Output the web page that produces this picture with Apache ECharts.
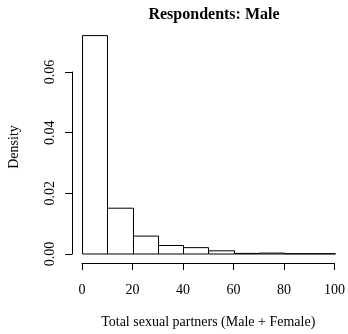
<!DOCTYPE html>
<html>
<head>
<meta charset="utf-8">
<script src="https://cdn.jsdelivr.net/npm/echarts@6/dist/echarts.min.js"></script>
<style>
  html, body { margin: 0; padding: 0; background: #ffffff; }
  #chart { width: 348px; height: 334px; }
</style>
</head>
<body>
<div id="chart"></div>
<script>
// Histogram of total sexual partners among male respondents (density scale)
const binStarts = [0, 10, 20, 30, 40, 50, 60, 70, 80, 90];
const binWidth = 10;
const densities = [0.0720, 0.0151, 0.0059, 0.0028, 0.0021, 0.00105, 0.0002, 0.0003, 0.0001, 0.0001];
const xTickValues = [0, 20, 40, 60, 80, 100];
const yTickValues = [0, 0.02, 0.04, 0.06];

const FONT = '"Liberation Serif", "DejaVu Serif", serif';

const bins = binStarts.map((s, i) => [s, s + binWidth, densities[i]]);

const chart = echarts.init(document.getElementById('chart'), null, { renderer: 'canvas' });

chart.setOption({
  backgroundColor: '#ffffff',
  animation: false,
  title: {
    text: 'Respondents: Male',
    left: 209,
    top: 2,
    textAlign: 'center',
    textStyle: { fontFamily: FONT, fontWeight: 'bold', fontSize: 16, color: '#000' }
  },
  graphic: [{
    type: 'text',
    x: 14,
    y: 147,
    rotation: Math.PI / 2,
    style: {
      text: 'Density',
      font: '14px ' + FONT,
      fill: '#000',
      align: 'center',
      verticalAlign: 'middle'
    }
  }],
  grid: { left: 82, right: 12, top: 72, bottom: 75 },
  xAxis: {
    type: 'value',
    min: xTickValues[0],
    max: xTickValues[xTickValues.length - 1],
    interval: xTickValues[1] - xTickValues[0],
    offset: 9,
    name: 'Total sexual partners (Male + Female)',
    nameLocation: 'middle',
    nameGap: 52,
    nameTextStyle: { fontFamily: FONT, fontSize: 14, color: '#000' },
    axisLine: { show: true, onZero: false, lineStyle: { color: '#000', width: 1 } },
    axisTick: { show: true, length: 7, lineStyle: { color: '#000', width: 1 } },
    axisLabel: { fontFamily: FONT, fontSize: 14, color: '#000', margin: 20 },
    splitLine: { show: false }
  },
  yAxis: {
    type: 'value',
    min: yTickValues[0],
    max: yTickValues[yTickValues.length - 1],
    interval: yTickValues[1] - yTickValues[0],
    offset: 10,
    axisLine: { show: true, onZero: false, lineStyle: { color: '#000', width: 1 } },
    axisTick: { show: true, length: 7, lineStyle: { color: '#000', width: 1 } },
    axisLabel: {
      fontFamily: FONT, fontSize: 14, color: '#000', margin: 15, rotate: 90,
      formatter: v => v.toFixed(2)
    },
    splitLine: { show: false }
  },
  series: [{
    type: 'custom',
    clip: false,
    data: bins,
    renderItem: function (params, api) {
      const p0 = api.coord([api.value(0), 0]);
      const p1 = api.coord([api.value(1), api.value(2)]);
      return {
        type: 'rect',
        shape: {
          x: Math.round(p0[0]) + 0.5,
          y: p1[1],
          width: Math.round(p1[0]) - Math.round(p0[0]),
          height: p0[1] - p1[1]
        },
        style: { fill: '#ffffff', stroke: '#000000', lineWidth: 1 }
      };
    }
  }]
});
</script>
</body>
</html>
